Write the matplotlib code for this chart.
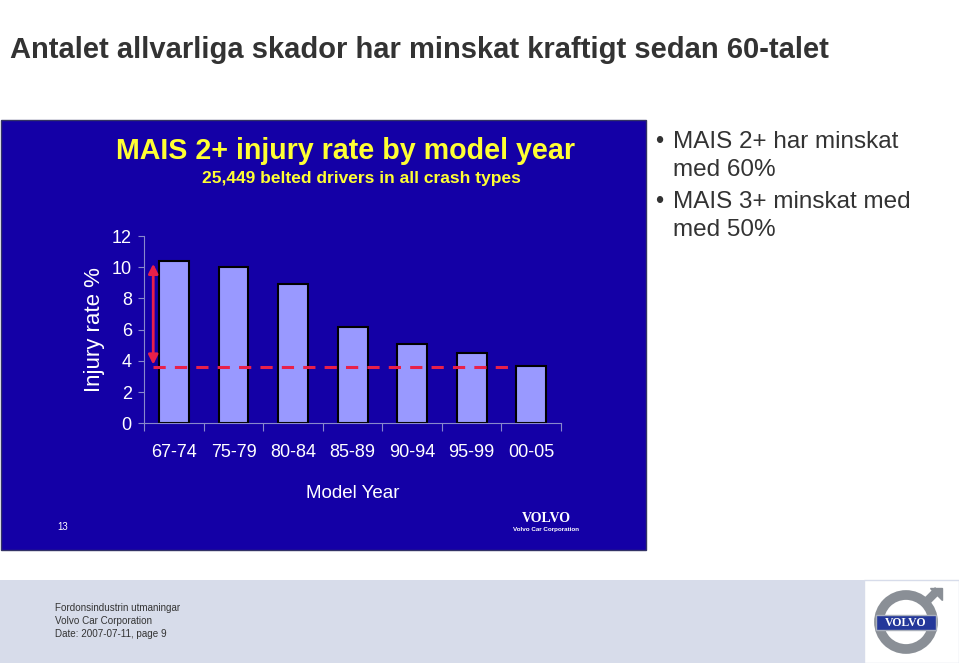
import numpy as np
import matplotlib.pyplot as plt
from matplotlib.patches import Rectangle, Circle, FancyBboxPatch

# data
model_years = ['67-74', '75-79', '80-84', '85-89', '90-94', '95-99', '00-05']
injury_rate = [10.4, 10.0, 8.9, 6.2, 5.1, 4.5, 3.65]
target_level = 3.58   # dashed reference line (the 00-05 level)

bg_blue = '#1400a6'
bar_col = '#9999ff'
red = '#e8204a'

plt.rcParams['font.family'] = ['Liberation Sans', 'DejaVu Sans']

fig = plt.figure(figsize=(9.59, 6.63), dpi=100)
fig.patch.set_facecolor('white')

# slide title
fig.text(10 / 959, 1 - 50 / 663, 'Antalet allvarliga skador har minskat kraftigt sedan 60-talet',
         fontsize=21, fontweight='bold', color='#333333', va='center', ha='left')

# dark blue chart panel
fig.patches.append(Rectangle((1 / 959, 1 - 550 / 663), 645 / 959, 430 / 663,
                             transform=fig.transFigure, facecolor=bg_blue,
                             edgecolor='#333366', lw=1, zorder=-5))

# footer band
fig.patches.append(Rectangle((0, 0), 864 / 959, 83 / 663, transform=fig.transFigure,
                             facecolor='#d7dcea', edgecolor='none', zorder=-5))
fig.patches.append(Rectangle((864 / 959, 0), 95 / 959, 83 / 663, transform=fig.transFigure,
                             facecolor='white', edgecolor='#d7dcea', lw=1, zorder=-5))
fig.text(55 / 959, 1 - 621 / 663, 'Fordonsindustrin utmaningar\nVolvo Car Corporation\nDate: 2007-07-11, page 9',
         fontsize=7.1, color='#333333', va='center', ha='left', linespacing=1.35)

# bullets on the right
for y0, line1, line2 in [(141, 'MAIS 2+ har minskat', 'med 60%'),
                         (201, 'MAIS 3+ minskat med', 'med 50%')]:
    fig.text(659 / 959, 1 - (y0 + 1) / 663, '•', fontsize=17, color='#333333', va='center', ha='center')
    fig.text(673 / 959, 1 - (y0 + 1) / 663, line1, fontsize=17.5, color='#333333', va='center', ha='left')
    fig.text(673 / 959, 1 - (y0 + 29) / 663, line2, fontsize=17.5, color='#333333', va='center', ha='left')

# chart titles inside the panel
fig.text(346 / 959, 1 - 151 / 663, 'MAIS 2+ injury rate by model year',
         fontsize=20.6, fontweight='bold', color='#ffff33', ha='center', va='center')
fig.text(361 / 959, 1 - 179 / 663, '25,449 belted drivers in all crash types',
         fontsize=12.5, fontweight='bold', color='#ffff33', ha='center', va='center')

# the bar chart
ax = fig.add_axes([144.3 / 959, 1 - 423.3 / 663, 416.7 / 959, 187.3 / 663])
ax.set_facecolor('none')
x = np.arange(len(model_years))
ax.bar(x, injury_rate, width=0.5, color=bar_col, edgecolor='black', lw=1.5, zorder=2)
ax.set_xlim(-0.5, len(model_years) - 0.5)
ax.set_ylim(0, 12)
ax.set_yticks(range(0, 13, 2))
ax.set_xticks(np.arange(-0.5, len(model_years), 1.0))
ax.set_xticklabels([])
ax.set_xticks(x, minor=True)
ax.set_xticklabels(model_years, minor=True)
ax.tick_params(axis='x', which='minor', length=0, pad=15, labelsize=13, labelcolor='white')
ax.tick_params(axis='x', which='major', length=6, color='#8888cc', direction='out')
ax.tick_params(axis='y', length=4, color='#8888cc', labelsize=13, labelcolor='white', pad=5)
for s in ['top', 'right']:
    ax.spines[s].set_visible(False)
for s in ['left', 'bottom']:
    ax.spines[s].set_color('#8888cc')
    ax.spines[s].set_linewidth(0.8)
ax.set_ylabel('Injury rate %', fontsize=16, color='white', labelpad=5)
ax.set_xlabel('Model Year', fontsize=13.5, color='white', labelpad=17,
              family=['Liberation Sans Narrow', 'Liberation Sans'])

# red reduction arrow and dashed reference line
ax.annotate('', xy=(-0.35, injury_rate[0]), xytext=(-0.35, target_level),
            arrowprops=dict(arrowstyle='<|-|>', color=red, lw=2, mutation_scale=14), zorder=4)
ax.plot([-0.35, len(model_years) - 1.25], [target_level, target_level],
        color=red, lw=2.2, ls=(0, (4, 3)), zorder=4)

# page number and logo text in the panel
fig.text(63 / 959, 1 - 527 / 663, '13', fontsize=7, color='white', ha='center', va='center')
fig.text(546 / 959, 1 - 519 / 663, 'VOLVO', fontsize=10, fontweight='bold', family='Liberation Serif',
         color='white', ha='center', va='center')
fig.text(546 / 959, 1 - 529 / 663, 'Volvo Car Corporation', fontsize=4.5, fontweight='bold',
         color='white', ha='center', va='center')

# Volvo iron-mark logo in the footer
lax = fig.add_axes([868 / 959, 3 / 663, 88 / 959, 78 / 663])
lax.set_xlim(0, 88)
lax.set_ylim(0, 78)
lax.set_aspect('equal')
lax.axis('off')
lax.add_patch(Circle((38, 38), 27, facecolor='none', edgecolor='#8a8f96', lw=7))
lax.plot([55, 70], [55, 70], color='#8a8f96', lw=6, solid_capstyle='butt')
lax.add_patch(plt.Polygon([[62, 72], [74, 72], [74, 60]], color='#8a8f96'))
lax.add_patch(FancyBboxPatch((8, 30), 60, 15, boxstyle='square,pad=0', facecolor='#24389a',
                             edgecolor='#aab0bb', lw=1))
lax.text(38, 37.5, 'VOLVO', fontsize=8.5, fontweight='bold', family='Liberation Serif',
         color='white', ha='center', va='center')

fig.savefig('out.png', dpi=100, facecolor=fig.get_facecolor())
